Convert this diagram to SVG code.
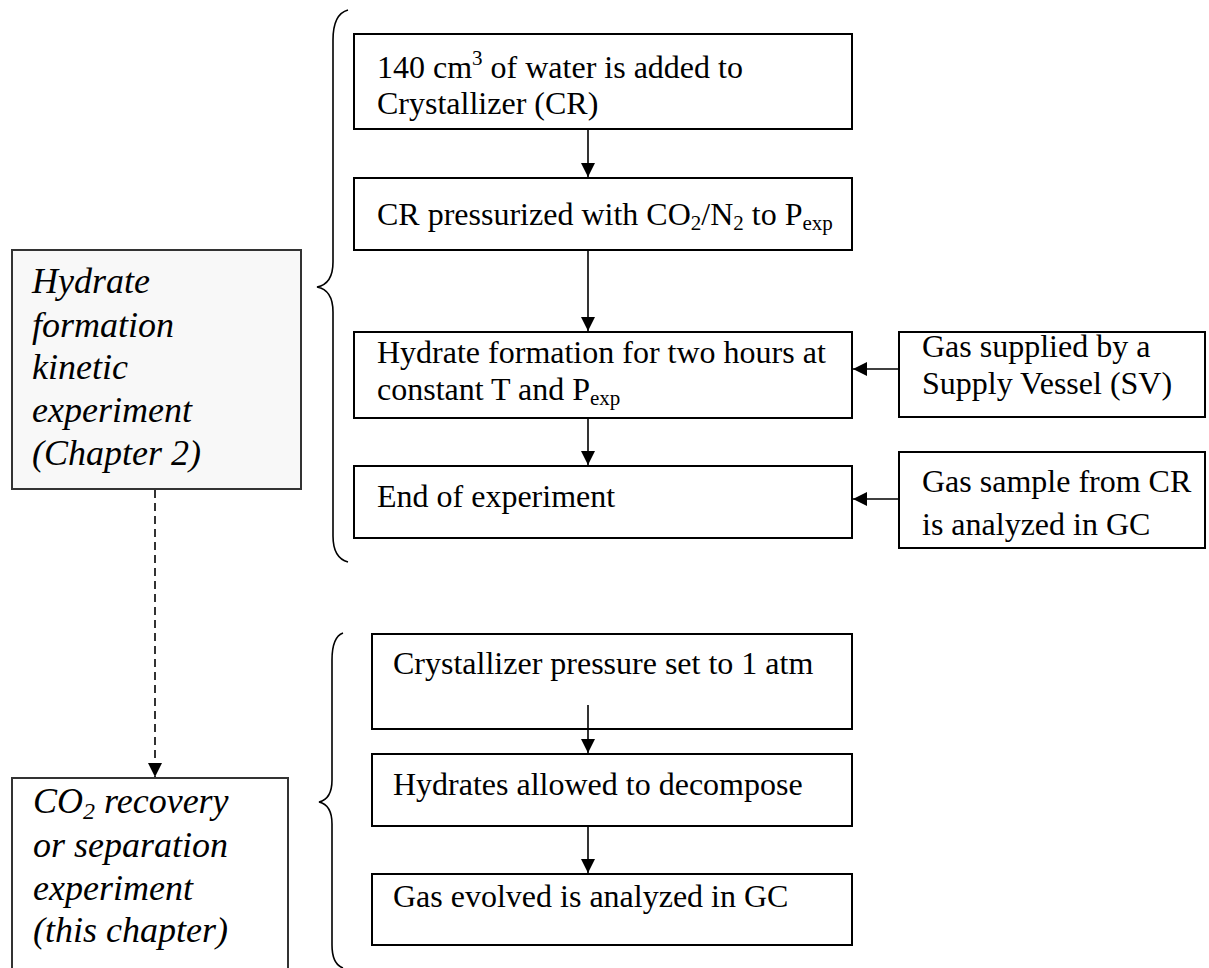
<svg xmlns="http://www.w3.org/2000/svg" width="1209" height="968" viewBox="0 0 1209 968">
<defs>
<style>
.box{fill:#fff;stroke:#000;stroke-width:2}
.side{fill:#f8f8f8;stroke:#333;stroke-width:2}
.side2{fill:#fff;stroke:#333;stroke-width:2}
.t{font-family:"Liberation Serif","Times New Roman",serif;font-size:32px;fill:#000}
.it{font-family:"Liberation Serif","Times New Roman",serif;font-size:36px;font-style:italic;fill:#000}
.c{fill:none;stroke:#000;stroke-width:1.6}
.brace{fill:none;stroke:#000;stroke-width:1.6}
</style>
<marker id="ahb" viewBox="0 0 14 14" refX="14" refY="7" markerWidth="14" markerHeight="14" markerUnits="userSpaceOnUse" orient="auto">
<path d="M0,0 L14,7 L0,14 Z" fill="#000"/>
</marker>
</defs>
<rect width="1209" height="968" fill="#fff"/>

<g id="braces">
<path class="brace" d="M348,10 Q333,14 333,40 L333,262 Q333,284 317,287 Q333,290 333,312 L333,536 Q333,558 348,562"/>
<path class="brace" d="M343,633 Q332,637 332,660 L332,780 Q332,799 319,802 Q332,805 332,824 L332,945 Q332,964 343,968"/>
</g>

<g id="hydrate-kinetic">
<rect class="side" x="12" y="250" width="289" height="239"/>
<text class="it" x="32" y="293">Hydrate</text>
<text class="it" x="32" y="337">formation</text>
<text class="it" x="32" y="379">kinetic</text>
<text class="it" x="32" y="422">experiment</text>
<text class="it" x="32" y="465">(Chapter 2)</text>
</g>

<g id="co2-recovery">
<rect class="side2" x="12" y="778" width="276" height="200"/>
<text class="it" x="33" y="813">CO<tspan font-size="24" dy="6">2</tspan><tspan dy="-6"> recovery</tspan></text>
<text class="it" x="33" y="857">or separation</text>
<text class="it" x="33" y="900">experiment</text>
<text class="it" x="33" y="942">(this chapter)</text>
</g>

<g id="step1">
<rect class="box" x="354" y="34" width="498" height="95"/>
<text class="t" x="377" y="78">140 cm<tspan font-size="21" dy="-13">3</tspan><tspan dy="13"> of water is added to</tspan></text>
<text class="t" x="377" y="114">Crystallizer (CR)</text>
</g>

<g id="step2">
<rect class="box" x="354" y="178" width="498" height="72"/>
<text class="t" x="377" y="225">CR pressurized with CO<tspan font-size="21" dy="5">2</tspan><tspan dy="-5">/N</tspan><tspan font-size="21" dy="5">2</tspan><tspan dy="-5"> to P</tspan><tspan font-size="21" dy="5">exp</tspan></text>
</g>

<g id="step3">
<rect class="box" x="354" y="332" width="498" height="86"/>
<text class="t" x="377" y="363">Hydrate formation for two hours at</text>
<text class="t" x="377" y="400">constant T and P<tspan font-size="21" dy="5">exp</tspan></text>
</g>

<g id="step4">
<rect class="box" x="354" y="466" width="498" height="72"/>
<text class="t" x="377" y="507">End of experiment</text>
</g>

<g id="supply">
<rect class="box" x="899" y="332" width="306" height="85"/>
<text class="t" x="922" y="357">Gas supplied by a</text>
<text class="t" x="922" y="394">Supply Vessel (SV)</text>
</g>

<g id="sample">
<rect class="box" x="899" y="452" width="306" height="96"/>
<text class="t" x="922" y="492">Gas sample from CR</text>
<text class="t" x="922" y="535">is analyzed in GC</text>
</g>

<g id="stepA">
<rect class="box" x="372" y="634" width="480" height="95"/>
<text class="t" x="393" y="674">Crystallizer pressure set to 1 atm</text>
</g>

<g id="stepB">
<rect class="box" x="372" y="754" width="480" height="72"/>
<text class="t" x="393" y="795">Hydrates allowed to decompose</text>
</g>

<g id="stepC">
<rect class="box" x="372" y="874" width="480" height="71"/>
<text class="t" x="393" y="907">Gas evolved is analyzed in GC</text>
</g>

<g id="connectors">
<line class="c" x1="588" y1="130" x2="588" y2="177" marker-end="url(#ahb)"/>
<line class="c" x1="588" y1="251" x2="588" y2="331" marker-end="url(#ahb)"/>
<line class="c" x1="588" y1="419" x2="588" y2="465" marker-end="url(#ahb)"/>
<line class="c" x1="898" y1="369" x2="853" y2="369" marker-end="url(#ahb)"/>
<line class="c" x1="898" y1="499" x2="853" y2="499" marker-end="url(#ahb)"/>
<line class="c" x1="588" y1="705" x2="588" y2="753" marker-end="url(#ahb)"/>
<line class="c" x1="588" y1="827" x2="588" y2="873" marker-end="url(#ahb)"/>
<line class="c" x1="155" y1="490" x2="155" y2="777" stroke-width="2" stroke-dasharray="8,5" marker-end="url(#ahb)"/>
</g>
</svg>
